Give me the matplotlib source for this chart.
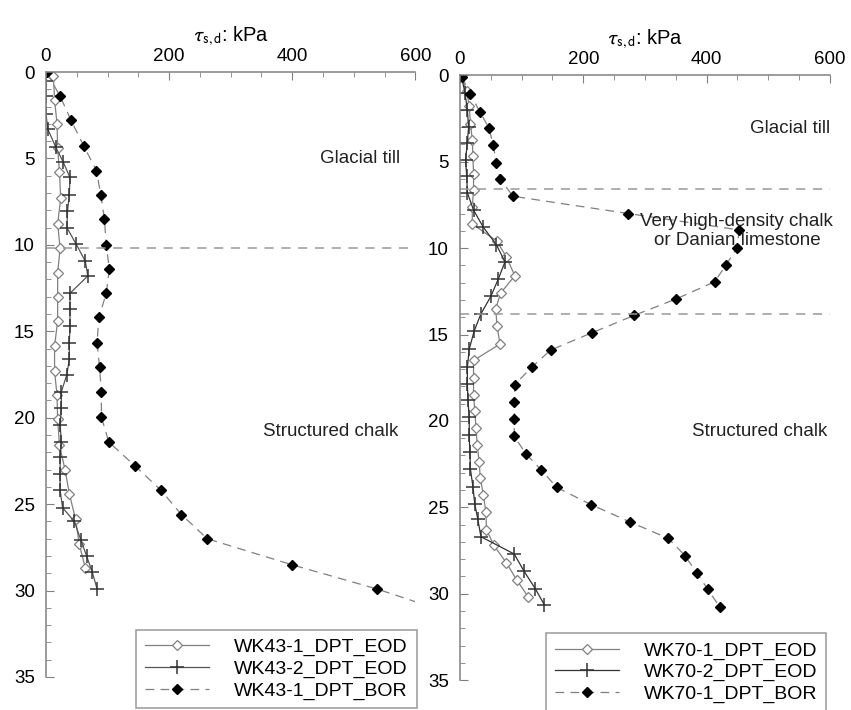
import matplotlib.pyplot as plt
from matplotlib.ticker import MultipleLocator

plt.rcParams['font.family'] = ['Liberation Sans', 'DejaVu Sans']
plt.rcParams['mathtext.fontset'] = 'stixsans'

# ---- WK43 (left panel) ----
wk43_eod1_tau = [12, 14, 18, 19, 22, 24, 19, 23, 19, 19, 19, 14, 14, 18, 19, 22, 31, 38, 48, 54, 64]
wk43_eod1_z = [0.2, 1.6, 3.0, 4.4, 5.8, 7.3, 8.8, 10.2, 11.6, 13.0, 14.4, 15.85, 17.3, 18.7, 20.1, 21.6,
               23.0, 24.4, 25.85, 27.3, 28.7]

wk43_eod2_tau = [0, 0, 0, 3, 16, 28, 39, 38, 35, 34, 49, 64, 68, 39, 39, 39, 38, 38, 34, 25,
                 25, 23, 25, 23, 23, 23, 27, 46, 57, 66, 75, 83]
wk43_eod2_z = [0.5, 1.4, 2.4, 3.3, 4.35, 5.2, 6.1, 7.1, 8.05, 9.0, 9.95, 10.95, 11.8, 12.8, 13.7, 14.7,
               15.65, 16.6, 17.5, 18.5, 19.45, 20.4, 21.4, 22.3, 23.25, 24.2, 25.2, 26.0, 27.1, 28.0, 28.9, 29.9]

wk43_bor_tau = [1, 23, 41, 61, 82, 89, 95, 98, 103, 98, 86, 83, 87, 90, 90, 102, 145, 187, 220, 262, 399, 537, 660]
wk43_bor_z = [0.0, 1.4, 2.8, 4.25, 5.7, 7.1, 8.5, 10.0, 11.4, 12.8, 14.2, 15.65, 17.05, 18.5, 19.95, 21.4,
              22.8, 24.2, 25.6, 27.0, 28.5, 29.9, 31.35]

# ---- WK70 (right panel) ----
wk70_eod1_tau = [1, 11, 15, 17, 20, 21, 22, 22, 20, 20, 60, 75, 89, 66, 58, 60, 65, 22, 22, 22, 24, 26,
                 28, 31, 33, 38, 42, 43, 55, 75, 92, 111]
wk70_eod1_z = [0.0, 0.9, 1.8, 2.8, 3.75, 4.7, 5.7, 6.65, 7.6, 8.6, 9.6, 10.5, 11.6, 12.6, 13.5, 14.5, 15.55,
               16.5, 17.5, 18.5, 19.4, 20.4, 21.4, 22.35, 23.3, 24.3, 25.25, 26.3, 27.2, 28.2, 29.2, 30.2]

wk70_eod2_tau = [2, 8, 12, 14, 12, 9, 11, 12, 22, 38, 59, 73, 62, 50, 34, 23, 15, 12, 12, 13, 15, 15,
                 16, 17, 21, 24, 29, 34, 88, 104, 122, 137]
wk70_eod2_z = [0.0, 1.0, 2.0, 3.0, 3.9, 4.9, 5.85, 6.8, 7.8, 8.8, 9.8, 10.8, 11.8, 12.8, 13.8, 14.8, 15.85,
               16.9, 17.85, 18.8, 19.8, 20.8, 21.8, 22.8, 23.8, 24.8, 25.7, 26.7, 27.7, 28.7, 29.7, 30.65]

wk70_bor_tau = [3, 17, 32, 47, 54, 59, 65, 86, 273, 453, 449, 431, 413, 350, 282, 214, 147, 116, 89, 88,
                88, 88, 107, 132, 157, 213, 276, 338, 365, 384, 402, 421]
wk70_bor_z = [0.1, 1.1, 2.1, 3.05, 4.05, 5.05, 6.0, 7.0, 8.0, 8.95, 10.0, 11.0, 11.95, 12.95, 13.9, 14.9,
              15.9, 16.9, 17.9, 18.9, 19.9, 20.9, 21.9, 22.85, 23.85, 24.85, 25.85, 26.8, 27.8, 28.8, 29.75, 30.75]

panels = [
    dict(rect=[0.054, 0.0465, 0.434, 0.852],
         series=[(wk43_eod1_tau, wk43_eod1_z, 'WK43-1_DPT_EOD'),
                 (wk43_eod2_tau, wk43_eod2_z, 'WK43-2_DPT_EOD'),
                 (wk43_bor_tau, wk43_bor_z, 'WK43-1_DPT_BOR')],
         boundaries=[10.2],
         labels=[(510, 5.0, 'Glacial till'), (462, 20.8, 'Structured chalk')],
         legend_anchor=(0.244, 0.078)),
    dict(rect=[0.5405, 0.042, 0.4348, 0.852],
         series=[(wk70_eod1_tau, wk70_eod1_z, 'WK70-1_DPT_EOD'),
                 (wk70_eod2_tau, wk70_eod2_z, 'WK70-2_DPT_EOD'),
                 (wk70_bor_tau, wk70_bor_z, 'WK70-1_DPT_BOR')],
         boundaries=[6.6, 13.8],
         labels=[(535, 3.1, 'Glacial till'),
                 (449, 9.0, 'Very high-density chalk\nor Danian limestone'),
                 (486, 20.6, 'Structured chalk')],
         legend_anchor=(0.232, 0.078)),
]

fig = plt.figure(figsize=(8.51, 7.10), dpi=100)
gray = '#808080'

for i, p in enumerate(panels):
    ax = fig.add_axes(p['rect'])
    (t1, z1, l1), (t2, z2, l2), (t3, z3, l3) = p['series']
    ax.plot(t1, z1, color=gray, lw=0.9, marker='D', ms=5.5, mfc='white', mec=gray, mew=0.9, label=l1)
    ax.plot(t2, z2, color='#555555' if i == 0 else '#333333', lw=0.9, marker='+', ms=10, mew=1.1,
            mec='#333333', label=l2)
    ax.plot(t3, z3, color=gray, lw=0.9, ls=(0, (7, 5)), marker='D', ms=5.5, mfc='black', mec='black',
            label=l3)
    for b in p['boundaries']:
        ax.axhline(b, color='#999999', lw=1.1, ls=(0, (6, 5)))
    for x, y, s in p['labels']:
        ax.text(x, y, s, ha='center', va='center', fontsize=13.5, color='#222222', linespacing=1.15)

    ax.set_xlim(0, 600)
    ax.set_ylim(35, 0)
    ax.xaxis.set_major_locator(MultipleLocator(200))
    ax.xaxis.set_minor_locator(MultipleLocator(50))
    ax.yaxis.set_major_locator(MultipleLocator(5))
    ax.yaxis.set_minor_locator(MultipleLocator(1))
    ax.xaxis.tick_top()
    ax.xaxis.set_label_position('top')
    ax.set_xlabel(r'$\tau_{\mathrm{s,d}}$: kPa', fontsize=14.5, labelpad=5)
    ax.tick_params(axis='both', which='both', direction='in', color=gray, labelsize=13.5)
    ax.tick_params(axis='both', which='major', length=6)
    ax.tick_params(axis='both', which='minor', length=3.5)
    ax.tick_params(axis='x', pad=5)
    ax.tick_params(axis='y', pad=8)
    for s in ['right', 'bottom']:
        ax.spines[s].set_visible(False)
    for s in ['left', 'top']:
        ax.spines[s].set_color(gray)
        ax.spines[s].set_linewidth(1.1)

    leg = ax.legend(loc='upper left', bbox_to_anchor=p['legend_anchor'], frameon=True, fancybox=False,
                    fontsize=14, handlelength=3.3, handletextpad=1.3, borderpad=0.45,
                    labelspacing=0.2, edgecolor=gray, borderaxespad=0)
    leg.get_frame().set_linewidth(1.1)

fig.savefig('out.png', dpi=100)
